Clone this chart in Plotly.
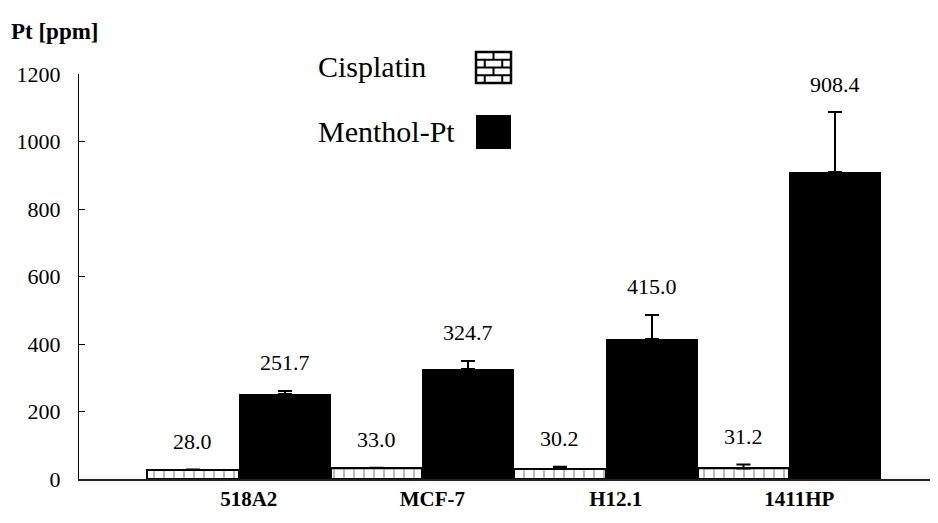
import plotly.graph_objects as go

categories = ["518A2", "MCF-7", "H12.1", "1411HP"]
cisplatin = [28.0, 33.0, 30.2, 31.2]
cisplatin_err = [0, 0, 6, 12]
menthol = [251.7, 324.7, 415.0, 908.4]
menthol_err = [10, 25, 71, 178]
y_ticks = [0, 200, 400, 600, 800, 1000, 1200]

FONT = "'Liberation Serif', 'Times New Roman', Times, 'DejaVu Serif', serif"
OFF = 8  # browser body margin
W, H = 938 - OFF, 523 - OFF
L, R, T, B = 79 - OFF, 0, 74 - OFF, 44
pw, ph = W - L - R, H - T - B

def px(x):
    return (x - OFF - L) / pw

def py(y):
    return (H - B - (y - OFF)) / ph

fig = go.Figure()
fig.add_trace(go.Bar(
    x=categories, y=cisplatin, name="Cisplatin",
    marker=dict(color="white", line=dict(color="black", width=2),
                pattern=dict(shape="+", fgcolor="black", bgcolor="white", size=10, solidity=0.2)),
    error_y=dict(type="data", array=cisplatin_err, symmetric=False, arrayminus=[0]*4,
                 color="black", thickness=2, width=7),
))
fig.add_trace(go.Bar(
    x=categories, y=menthol, name="Menthol-Pt",
    marker=dict(color="black", line=dict(color="black", width=0)),
    error_y=dict(type="data", array=menthol_err, symmetric=False, arrayminus=[0]*4,
                 color="black", thickness=2, width=7),
))

annotations = []
for i, c in enumerate(categories):
    for off, vals, errs in ((-0.25, cisplatin, cisplatin_err), (0.25, menthol, menthol_err)):
        annotations.append(dict(
            x=i + off, y=vals[i] + errs[i], xref="x", yref="y",
            text=f"{vals[i]:.1f}", showarrow=False, yanchor="middle", yshift=28,
            font=dict(family=FONT, size=22, color="black")))

annotations += [
    dict(x=px(316), y=py(66), xref="paper", yref="paper", text="Cisplatin",
         showarrow=False, xanchor="left", yanchor="middle",
         font=dict(family=FONT, size=30, color="black")),
    dict(x=px(316), y=py(132), xref="paper", yref="paper", text="Menthol-Pt",
         showarrow=False, xanchor="left", yanchor="middle",
         font=dict(family=FONT, size=30, color="black")),
    dict(x=px(9), y=py(31), xref="paper", yref="paper", text="<b>Pt [ppm]</b>",
         showarrow=False, xanchor="left", yanchor="middle",
         font=dict(family=FONT, size=23, color="black")),
]

shapes = []
# brick legend icon
bx0, bx1, by0, by1 = 476, 511, 52, 83
shapes.append(dict(type="rect", xref="paper", yref="paper", x0=px(bx0), x1=px(bx1),
                   y0=py(by1), y1=py(by0), line=dict(color="black", width=2.5), fillcolor="white"))
rows = 4
rh = (by1 - by0) / rows
for r in range(1, rows):
    yy = by0 + r * rh
    shapes.append(dict(type="line", xref="paper", yref="paper", x0=px(bx0), x1=px(bx1),
                       y0=py(yy), y1=py(yy), line=dict(color="black", width=2)))
bw = bx1 - bx0
for r in range(rows):
    ya, yb = by0 + r * rh, by0 + (r + 1) * rh
    xs = [bx0 + bw * 0.5] if r % 2 == 0 else [bx0 + bw * 0.25, bx0 + bw * 0.75]
    for xx in xs:
        shapes.append(dict(type="line", xref="paper", yref="paper", x0=px(xx), x1=px(xx),
                           y0=py(yb), y1=py(ya), line=dict(color="black", width=2)))
# black legend square
shapes.append(dict(type="rect", xref="paper", yref="paper", x0=px(476), x1=px(511),
                   y0=py(149), y1=py(115), line=dict(color="black", width=0), fillcolor="black"))

fig.update_layout(
    width=W, height=H,
    margin=dict(l=L, r=R, t=T, b=B),
    paper_bgcolor="white", plot_bgcolor="white",
    barmode="group", bargap=0, bargroupgap=0,
    showlegend=False,
    font=dict(family=FONT, color="black"),
    annotations=annotations, shapes=shapes,
    xaxis=dict(range=[-0.8706, 3.81], showline=True, linecolor="#222", linewidth=1.5,
               ticks="", showgrid=False, zeroline=False, ticklabelshift=10, ticklabelstandoff=0,
               tickfont=dict(family=FONT, size=21, color="black", weight="bold")),
    yaxis=dict(range=[0, 1200], tickvals=y_ticks, showline=True, linecolor="black",
               linewidth=1, ticks="inside", ticklen=6, tickcolor="black",
               showgrid=False, zeroline=False, ticklabelstandoff=13,
               tickfont=dict(family=FONT, size=22, color="black")),
)

fig.write_html("out.html")
